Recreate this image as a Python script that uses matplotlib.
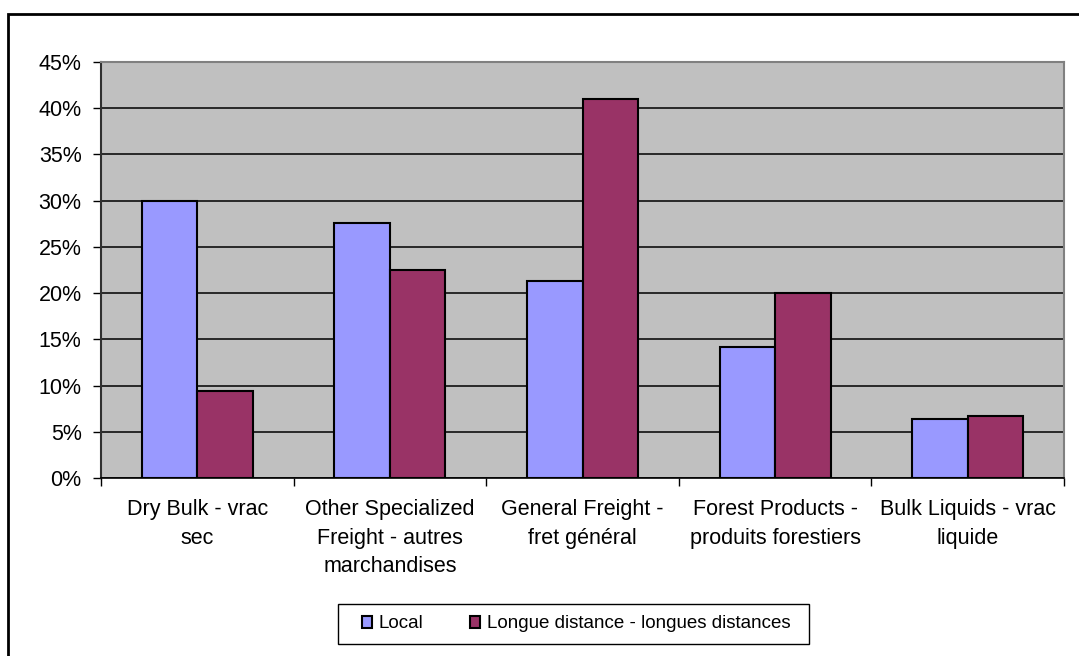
import numpy as np
import matplotlib
matplotlib.use("Agg")
import matplotlib.pyplot as plt
from matplotlib.patches import Rectangle
from matplotlib.ticker import PercentFormatter

plt.rcParams['font.family'] = ['Liberation Sans', 'DejaVu Sans']

categories = ["Dry Bulk - vrac\nsec",
              "Other Specialized\nFreight - autres\nmarchandises",
              "General Freight -\nfret général",
              "Forest Products -\nproduits forestiers",
              "Bulk Liquids - vrac\nliquide"]
local = [30.0, 27.6, 21.3, 14.2, 6.4]
long_dist = [9.45, 22.5, 41.05, 20.05, 6.67]
series_names = ["Local", "Longue distance - longues distances"]

fig = plt.figure(figsize=(10.79, 6.56), dpi=100)
ax = fig.add_axes([101/1079, 1 - 478/656, (1064-101)/1079, (478-62)/656])
ax.set_facecolor("#C0C0C0")

x = np.arange(len(categories))
w = 0.288
ax.bar(x - w/2, local, w, color="#9999FF", edgecolor="black", linewidth=1.5,
       label=series_names[0], zorder=3)
ax.bar(x + w/2, long_dist, w, color="#993366", edgecolor="black", linewidth=1.5,
       label=series_names[1], zorder=3)

ax.set_xlim(-0.5, len(categories) - 0.5)
ax.set_ylim(0, 45)
ax.set_yticks(np.arange(0, 46, 5))
ax.yaxis.set_major_formatter(PercentFormatter(decimals=0))
ax.grid(axis="y", color="black", linewidth=1.1, zorder=1)
ax.set_axisbelow(True)

ax.set_xticks(x)
ax.set_xticklabels(categories, fontsize=15.5, linespacing=1.48)
ax.set_xticks(np.arange(-0.5, len(categories)), minor=True)
ax.tick_params(axis="x", which="major", length=0, pad=15)
ax.tick_params(axis="x", which="minor", length=6, width=1, direction="out", color="black")
ax.tick_params(axis="y", length=6, width=1, labelsize=15.5, pad=8, color="black")

for side in ["top", "right"]:
    ax.spines[side].set_color("#808080")
    ax.spines[side].set_linewidth(1.5)
ax.spines["left"].set_color("#303030")
ax.spines["left"].set_linewidth(1.5)
ax.spines["bottom"].set_color("black")
ax.spines["bottom"].set_linewidth(1.2)

# legend entries, with a separate box drawn like the Excel legend frame
leg = fig.legend(loc="center", bbox_to_anchor=(576/1079, 1 - 624/656),
                 ncol=2, frameon=False,
                 fontsize=13.5, handlelength=0.55, handleheight=0.55,
                 handletextpad=0.35, columnspacing=2.5,
                 borderpad=0.0, borderaxespad=0)
fig.add_artist(Rectangle((338/1079, 1 - 644/656), (809-338)/1079, 40/656,
                         transform=fig.transFigure, fill=False,
                         edgecolor="black", linewidth=1.0))

# outer chart border
fig.add_artist(Rectangle((7.5/1079, -0.2), 1.2, 1.2 - 14/656,
                         transform=fig.transFigure, fill=False,
                         edgecolor="black", linewidth=2.0, clip_on=False))

fig.savefig("out.png", dpi=100)
